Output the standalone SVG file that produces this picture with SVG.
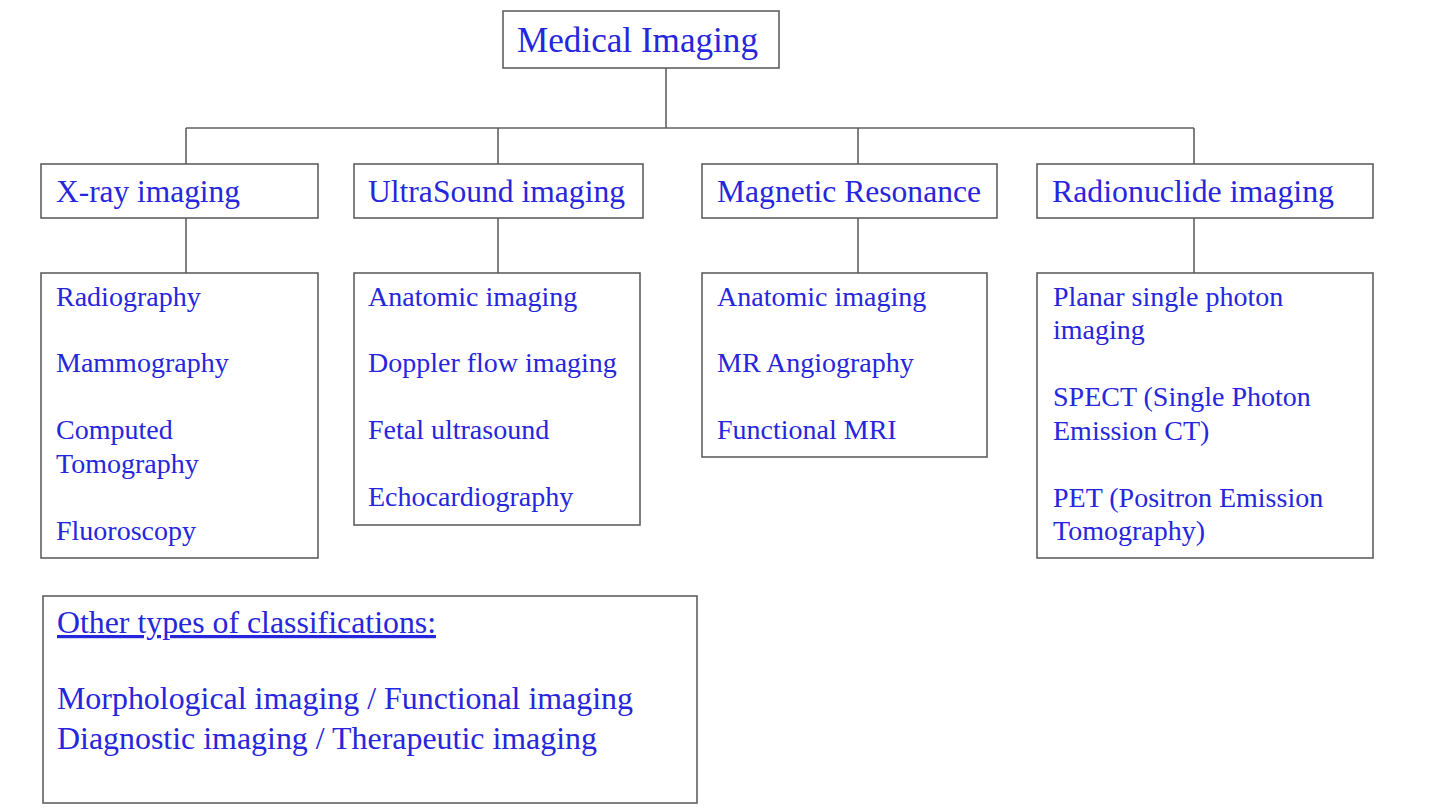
<svg xmlns="http://www.w3.org/2000/svg" width="1442" height="809" viewBox="0 0 1442 809">
<style>
.box{fill:#ffffff;stroke:#606060;stroke-width:1.6}
.ln{stroke:#606060;stroke-width:1.6;fill:none}
text{font-family:"Liberation Serif","Times New Roman",serif;fill:#2626dc}
.h0{font-size:35px}
.h1{font-size:31px}
.it{font-size:28px}
.ot{font-size:32px}
</style>
<rect width="1442" height="809" fill="#ffffff"/>
<g id="connectors">
<line class="ln" x1="666" y1="68" x2="666" y2="128"/>
<line class="ln" x1="186" y1="128" x2="1194" y2="128"/>
<line class="ln" x1="186" y1="128" x2="186" y2="164"/>
<line class="ln" x1="498" y1="128" x2="498" y2="164"/>
<line class="ln" x1="858" y1="128" x2="858" y2="164"/>
<line class="ln" x1="1194" y1="128" x2="1194" y2="164"/>
<line class="ln" x1="186" y1="218" x2="186" y2="273"/>
<line class="ln" x1="498" y1="218" x2="498" y2="273"/>
<line class="ln" x1="858" y1="218" x2="858" y2="273"/>
<line class="ln" x1="1194" y1="218" x2="1194" y2="273"/>
</g>
<g id="root">
<rect class="box" x="503" y="11" width="276" height="57"/>
<text class="h0" x="517" y="52" textLength="241" lengthAdjust="spacingAndGlyphs">Medical Imaging</text>
</g>
<g id="xray">
<rect class="box" x="41" y="164" width="277" height="54"/>
<text class="h1" x="56" y="202" textLength="184" lengthAdjust="spacingAndGlyphs">X-ray imaging</text>
</g>
<g id="ultrasound">
<rect class="box" x="354" y="164" width="289" height="54"/>
<text class="h1" x="368" y="202" textLength="257" lengthAdjust="spacingAndGlyphs">UltraSound imaging</text>
</g>
<g id="mr">
<rect class="box" x="702" y="164" width="295" height="54"/>
<text class="h1" x="717" y="202" textLength="264" lengthAdjust="spacingAndGlyphs">Magnetic Resonance</text>
</g>
<g id="radionuclide">
<rect class="box" x="1037" y="164" width="336" height="54"/>
<text class="h1" x="1052" y="202" textLength="282" lengthAdjust="spacingAndGlyphs">Radionuclide imaging</text>
</g>
<g id="xray-list">
<rect class="box" x="41" y="273" width="277" height="285"/>
<text class="it" x="56" y="306">Radiography</text>
<text class="it" x="56" y="372">Mammography</text>
<text class="it" x="56" y="439">Computed</text>
<text class="it" x="56" y="473">Tomography</text>
<text class="it" x="56" y="540">Fluoroscopy</text>
</g>
<g id="ultrasound-list">
<rect class="box" x="354" y="273" width="286" height="252"/>
<text class="it" x="368" y="306">Anatomic imaging</text>
<text class="it" x="368" y="372">Doppler flow imaging</text>
<text class="it" x="368" y="439">Fetal ultrasound</text>
<text class="it" x="368" y="506">Echocardiography</text>
</g>
<g id="mr-list">
<rect class="box" x="702" y="273" width="285" height="184"/>
<text class="it" x="717" y="306">Anatomic imaging</text>
<text class="it" x="717" y="372">MR Angiography</text>
<text class="it" x="717" y="439">Functional MRI</text>
</g>
<g id="radionuclide-list">
<rect class="box" x="1037" y="273" width="336" height="285"/>
<text class="it" x="1053" y="306">Planar single photon</text>
<text class="it" x="1053" y="339">imaging</text>
<text class="it" x="1053" y="406">SPECT (Single Photon</text>
<text class="it" x="1053" y="440">Emission CT)</text>
<text class="it" x="1053" y="507">PET (Positron Emission</text>
<text class="it" x="1053" y="540">Tomography)</text>
</g>
<g id="other">
<rect class="box" x="43" y="596" width="654" height="207"/>
<text class="ot" x="57" y="633" textLength="379" lengthAdjust="spacingAndGlyphs" text-decoration="underline">Other types of classifications:</text>
<text class="ot" x="57" y="709" textLength="576" lengthAdjust="spacingAndGlyphs">Morphological imaging / Functional imaging</text>
<text class="ot" x="57" y="749" textLength="540" lengthAdjust="spacingAndGlyphs">Diagnostic imaging / Therapeutic imaging</text>
</g>
</svg>
